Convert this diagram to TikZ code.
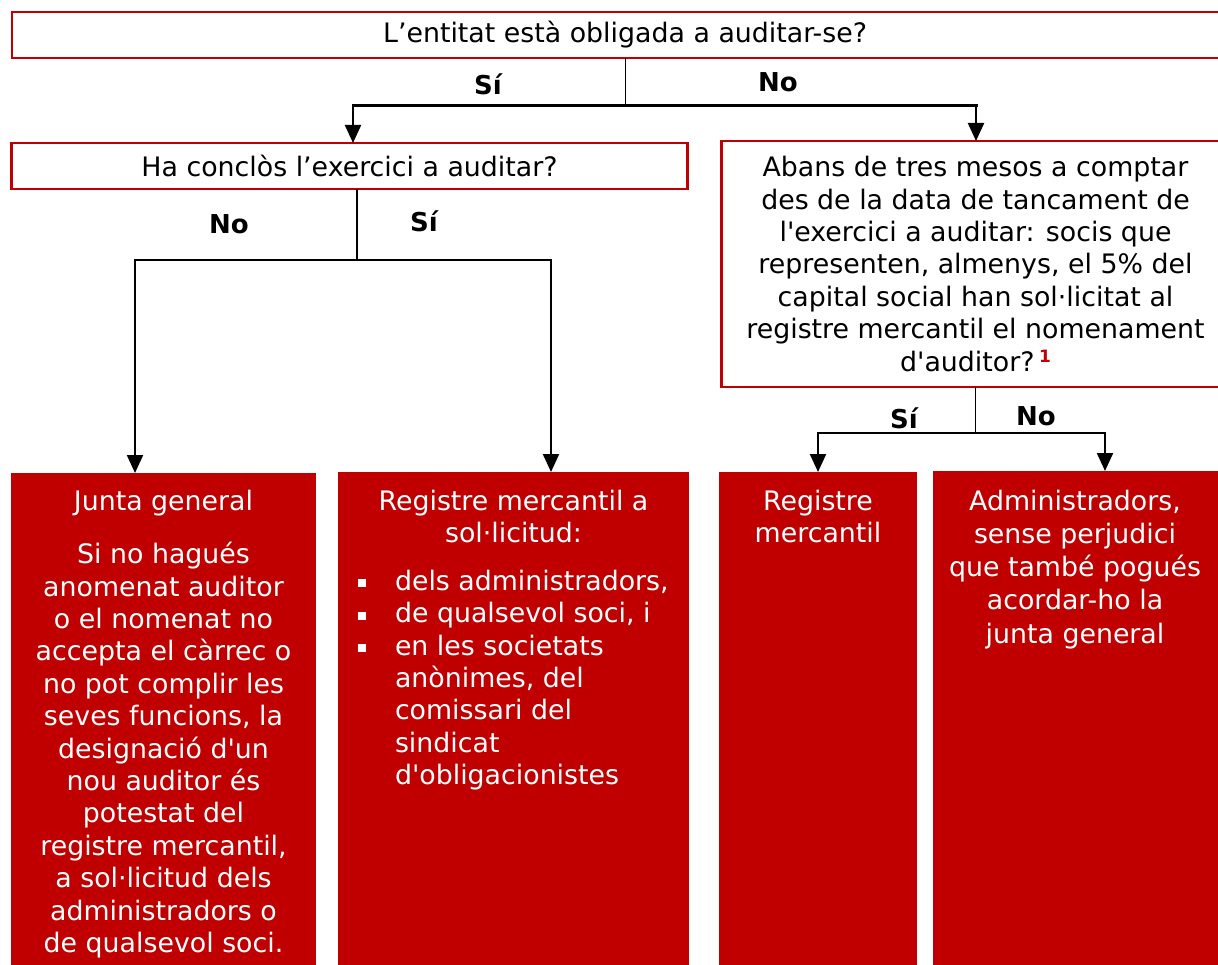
\documentclass[tikz,border=0pt]{standalone}
\usepackage{fontspec}
\newfontfamily\vf{DejaVu Sans}
\usetikzlibrary{arrows.meta}
\definecolor{cred}{HTML}{C00000}
\newcommand\mybul{\makebox[37pt][l]{\raisebox{3pt}{\rule{8pt}{8pt}}}}
\newcommand\myind{\hspace*{37pt}}
\begin{document}
\begin{tikzpicture}[x=1pt,y=-1pt,
  every node/.style={inner sep=0pt, outer sep=0pt},
  qbox/.style={draw=cred, line width=2.5pt, fill=white, font=\vf\fontsize{26.8}{32.4}\selectfont, align=center},
  abox/.style={fill=cred, draw=none},
  atext/.style={text=white, font=\vf\fontsize{26.8}{32.4}\selectfont, align=center, anchor=north},
  lbl/.style={font=\vf\bfseries\fontsize{26}{30}\selectfont},
  conn/.style={line width=2.2pt, black},
  thinconn/.style={line width=1pt, black},
  arr/.style={conn, -{Triangle[length=18pt,width=16pt]}}
]
\useasboundingbox (0,0) rectangle (1218,965);
\fill[white] (0,0) rectangle (1218,965);

% question boxes
\node[qbox, minimum width=1226pt, minimum height=46pt] (q1) at (625,35) {L’entitat està obligada a auditar-se?};
\node[qbox, minimum width=676pt, minimum height=46pt] (q2) at (349.5,166) {Ha conclòs l’exercici a auditar?};
\node[qbox, minimum width=508pt, minimum height=246pt] (q3) at (975.5,264) {Abans de tres mesos a comptar\\des de la data de tancament de\\l'exercici a auditar: socis que\\representen, almenys, el 5\% del\\capital social han sol·licitat al\\registre mercantil el nomenament\\d'auditor?\,\textcolor{cred}{\raisebox{9pt}{\fontsize{17}{17}\selectfont\bfseries 1}}};

% answer boxes
\node[abox, minimum width=305pt, minimum height=507pt] (A) at (163.5,726.5) {};
\node[abox, minimum width=351pt, minimum height=508pt] (B) at (513.5,726) {};
\node[abox, minimum width=198pt, minimum height=508pt] (C) at (818,726) {};
\node[abox, minimum width=344pt, minimum height=509pt] (D) at (1105,725.5) {};

\node[atext] (At) at (163.5,490) {Junta general\\[21pt]Si no hagués\\anomenat auditor\\o el nomenat no\\accepta el càrrec o\\no pot complir les\\seves funcions, la\\designació d'un\\nou auditor és\\potestat del\\registre mercantil,\\a sol·licitud dels\\administradors o\\de qualsevol soci.};
\node[atext] (Bt) at (513.5,490) {Registre mercantil a\\sol·licitud:};
\node[atext, align=left, anchor=north west] (Bl) at (358,570) {\mybul dels administradors,\\\mybul de qualsevol soci, i\\\mybul en les societats\\\myind anònimes, del\\\myind comissari del\\\myind sindicat\\\myind d'obligacionistes};
\node[atext] (Ct) at (818,490) {Registre\\mercantil};
\node[atext, font=\vf\fontsize{26.8}{33.2}\selectfont] (Dt) at (1075,490) {Administradors,\\sense perjudici\\que també pogués\\acordar-ho la\\junta general};

% connectors level 1
\coordinate (j1) at (625,106);
\coordinate (j1l) at (353,106);
\coordinate (j1r) at (976,106);
\draw[thinconn] (q1.south) -- (j1);
\draw[arr] (j1l) -- (j1l |- q2.north);
\draw[arr] (j1r) -- (j1r |- q3.north);
\draw[line width=3pt, line cap=rect] (j1l) -- (j1r);
\node[lbl] (s1) at (488,84) {Sí};
\node[lbl] (n1) at (778,82) {No};

% connectors level 2
\coordinate (j2) at (357,260);
\coordinate (j2l) at (135,260);
\coordinate (j2r) at (551,260);
\draw[conn] (j2 |- q2.south) -- (j2);
\draw[conn, line cap=rect] (j2l) -- (j2r);
\draw[arr] (j2l) -- (j2l |- A.north);
\draw[arr] (j2r) -- (j2r |- B.north);
\node[lbl] (n2) at (229,224) {No};
\node[lbl] (s2) at (424,221) {Sí};

% connectors level 3
\coordinate (j3) at (975,433);
\coordinate (j3l) at (818,433);
\coordinate (j3r) at (1105,433);
\draw[thinconn] (j3 |- q3.south) -- (j3);
\draw[conn, line cap=rect] (j3l) -- (j3r);
\draw[arr] (j3l) -- (j3l |- C.north);
\draw[arr] (j3r) -- (j3r |- D.north);
\node[lbl] (s3) at (904,418) {Sí};
\node[lbl] (n3) at (1036,416) {No};
\end{tikzpicture}
\end{document}
